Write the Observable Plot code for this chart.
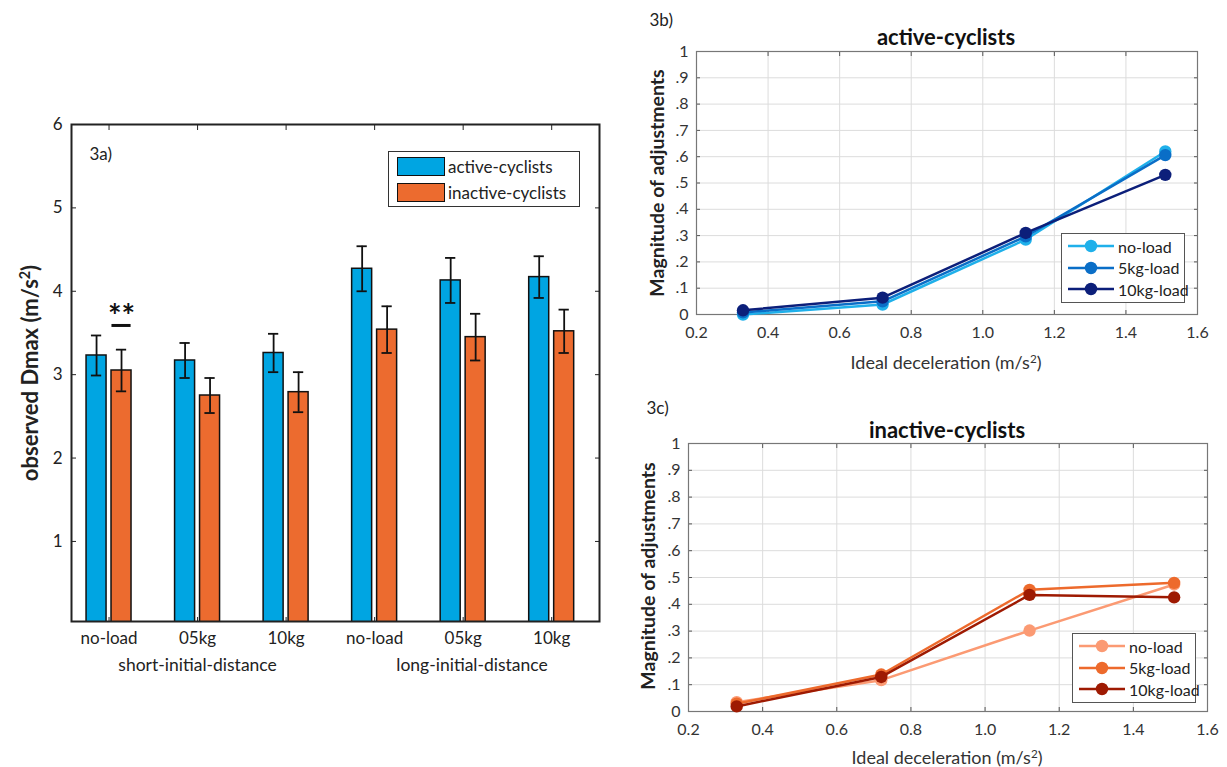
<!DOCTYPE html>
<html><head><meta charset="utf-8">
<script src="https://cdn.jsdelivr.net/npm/d3@7"></script>
<script src="https://cdn.jsdelivr.net/npm/@observablehq/plot@0.6"></script>
<style>
body{margin:0;background:#fff;font-family:Lato,"Open Sans",sans-serif;color:#222;}
#root{position:relative;width:1227px;height:767px;overflow:hidden;background:#fff;}
.lbl{position:absolute;white-space:nowrap;transform:translate(-50%,-50%);line-height:1;}
.lbl sup{font-size:0.65em;vertical-align:0.55em;line-height:0;}
.legend{position:absolute;background:#fff;box-sizing:border-box;}
.legrow{position:absolute;left:0;display:flex;align-items:center;white-space:nowrap;}
</style></head><body><div id="root"></div>
<script>
// ---------- Panel 3a data ----------
const conditions = ["no-load","05kg","10kg","no-load","05kg","10kg"];
const conditionPos = [1,2,3,4,5,6];
const distanceGroups = ["short-initial-distance","long-initial-distance"];
const distanceGroupPos = [2,5.1];
const cyclistGroups = ["active-cyclists","inactive-cyclists"];
const activeDmax = [3.23,3.17,3.26,4.27,4.13,4.17];
const activeErr = [0.24,0.21,0.23,0.27,0.27,0.25];
const inactiveDmax = [3.05,2.75,2.79,3.54,3.45,3.52];
const inactiveErr = [0.25,0.21,0.24,0.28,0.28,0.26];
const barColors = ["#00a5e2","#ec6b2f"];
const yTicksA = [1,2,3,4,5,6];
const sigPos = [1];
const sigLine = [3.59];
const sigText = ["**"];
const panelTags = ["3a)","3b)","3c)"];

// ---------- Panels 3b / 3c data ----------
const idealDecel = [0.33,0.72,1.12,1.51];
const loads = ["no-load","5kg-load","10kg-load"];
const activeNoLoad = [0.0,0.038,0.285,0.62];
const active5kg = [0.008,0.05,0.297,0.606];
const active10kg = [0.016,0.064,0.31,0.531];
const inactiveNoLoad = [0.035,0.117,0.302,0.474];
const inactive5kg = [0.029,0.138,0.454,0.48];
const inactive10kg = [0.019,0.129,0.435,0.426];
const activeColors = ["#1fb0ea","#0a6ec7","#0c1f7a"];
const inactiveColors = ["#fb9a73","#ed6a2c","#9e1a02"];
const xTicksBC = [0.2,0.4,0.6,0.8,1.0,1.2,1.4,1.6];
const yTicksBC = [0,0.1,0.2,0.3,0.4,0.5,0.6,0.7,0.8,0.9,1];
const yTickLabelsBC = ["0",".1",".2",".3",".4",".5",".6",".7",".8",".9","1"];

const root = document.getElementById("root");
function place(el, left, top){ el.style.position="absolute"; el.style.left=left+"px"; el.style.top=top+"px"; root.appendChild(el); return el; }
function label(html, cx, cy, css, rotate){
  const d=document.createElement("div"); d.className="lbl"; d.innerHTML=html;
  d.style.left=cx+"px"; d.style.top=cy+"px";
  Object.assign(d.style, css||{});
  if(rotate) d.style.transform="translate(-50%,-50%) rotate(-90deg)";
  root.appendChild(d); return d;
}

// ---------- Panel 3a ----------
const barData = [];
conditions.forEach((c,i)=>{
  barData.push({pos:conditionPos[i], group:cyclistGroups[0], value:activeDmax[i], err:activeErr[i], side:-1});
  barData.push({pos:conditionPos[i], group:cyclistGroups[1], value:inactiveDmax[i], err:inactiveErr[i], side:1});
});
const halfGap=0.028, barW=0.226, capHalf=0.058;
const bx1 = d => d.pos + (d.side<0 ? -halfGap-barW : halfGap);
const bx2 = d => d.pos + (d.side<0 ? -halfGap : halfGap+barW);
const bxc = d => d.pos + d.side*(halfGap+barW/2);
const sigData = sigPos.map((p,i)=>({pos:p, side:1, y:sigLine[i], text:sigText[i]}));
const groupData = distanceGroups.map((g,i)=>({label:g, pos:distanceGroupPos[i]}));

const plotA = Plot.plot({
  width:620, height:600, marginLeft:71, marginTop:24, marginRight:21, marginBottom:79,
  x:{domain:[0.576,6.54]}, y:{domain:[0.04,6]},
  color:{domain:cyclistGroups, range:barColors},
  style:{fontFamily:"Lato, sans-serif", fontSize:"17px", color:"#222", background:"transparent", overflow:"visible"},
  marks:[
    Plot.rect(barData,{x1:bx1, x2:bx2, y1:0, y2:"value", fill:"group", stroke:"#111", strokeWidth:1.5, clip:true}),
    Plot.ruleX(barData,{x:bxc, y1:d=>d.value-d.err, y2:d=>d.value+d.err, stroke:"#111", strokeWidth:1.8}),
    Plot.ruleY(barData,{y:d=>d.value+d.err, x1:d=>bxc(d)-capHalf, x2:d=>bxc(d)+capHalf, stroke:"#111", strokeWidth:1.8}),
    Plot.ruleY(barData,{y:d=>d.value-d.err, x1:d=>bxc(d)-capHalf, x2:d=>bxc(d)+capHalf, stroke:"#111", strokeWidth:1.8}),
    Plot.ruleY(sigData,{y:"y", x1:d=>bx1(d)+0.005, x2:d=>bx2(d)-0.005, stroke:"#111", strokeWidth:3}),
    Plot.text(sigData,{x:bxc, y:"y", text:"text", dy:-8, fontSize:32, fontWeight:"bold", fill:"#111", lineAnchor:"middle"}),
    Plot.text(panelTags.slice(0,1),{text:d=>d, frameAnchor:"top-left", dx:18, dy:30, fontSize:17, fill:"#222", lineAnchor:"middle", textAnchor:"start"}),
    Plot.axisY(yTicksA,{anchor:"left", tickSize:-5, tickPadding:14, tickFormat:d3.format("d"), label:null, stroke:"#222"}),
    Plot.axisY(yTicksA,{anchor:"right", tickSize:-5, tickFormat:()=>"", label:null, stroke:"#222"}),
    Plot.axisX(conditionPos,{anchor:"bottom", tickSize:-4, tickPadding:14, tickFormat:p=>conditions[conditionPos.indexOf(p)], label:null, stroke:"#222"}),
    Plot.axisX(conditionPos,{anchor:"top", tickSize:-5, tickFormat:()=>"", label:null, stroke:"#222"}),
    Plot.text(groupData,{x:"pos", text:"label", frameAnchor:"bottom", dy:44, fontSize:17.5, fill:"#222", lineAnchor:"middle"}),
    Plot.frame({stroke:"#222", strokeWidth:2})
  ]
});
place(plotA, 0, 100);

// legend 3a
(function(){
  const L=document.createElement("div"); L.className="legend";
  L.style.width="192px"; L.style.height="56px"; L.style.border="1.5px solid #333";
  cyclistGroups.forEach((g,i)=>{
    const r=document.createElement("div"); r.className="legrow";
    r.style.top=(4+i*26)+"px"; r.style.left="8px"; r.style.height="20px";
    r.innerHTML=`<span style="display:inline-block;width:46px;height:17px;background:${barColors[i]};border:1.5px solid #111;"></span><span style="margin-left:3px;font-size:17px;">${g}</span>`;
    L.appendChild(r);
  });
  place(L, 388, 151);
})();
label("observed Dmax (m/s<sup>2</sup>)", 30, 373, {fontSize:"22px", fontWeight:"bold"}, true);

// ---------- Panels 3b / 3c ----------
function linePanel(seriesList, colors, dims){
  const data=[];
  seriesList.forEach((s,k)=>s.forEach((v,j)=>data.push({load:loads[k], x:idealDecel[j], y:v})));
  const marks=[
    Plot.gridX(xTicksBC,{stroke:"#dcdcdc", strokeOpacity:1}),
    Plot.gridY(yTicksBC,{stroke:"#dcdcdc", strokeOpacity:1}),
    Plot.axisY(yTicksBC,{anchor:"left", tickSize:-4, tickPadding:12, tickFormat:v=>yTickLabelsBC[yTicksBC.indexOf(v)], label:null, stroke:"#555"}),
    Plot.axisY(yTicksBC,{anchor:"right", tickSize:-4, tickFormat:()=>"", label:null, stroke:"#555"}),
    Plot.axisX(xTicksBC,{anchor:"bottom", tickSize:-4, tickPadding:16, tickFormat:d3.format(".1f"), label:null, stroke:"#555"}),
    Plot.axisX(xTicksBC,{anchor:"top", tickSize:-4, tickFormat:()=>"", label:null, stroke:"#555"}),
    Plot.frame({stroke:"#777", strokeWidth:1.2})
  ];
  loads.forEach(l=>{
    const sub=data.filter(d=>d.load===l);
    marks.push(Plot.line(sub,{x:"x", y:"y", stroke:"load", strokeWidth:2.5}));
    marks.push(Plot.dot(sub,{x:"x", y:"y", fill:"load", r:6.2}));
  });
  marks.push(Plot.text([dims.tag],{text:d=>d, frameAnchor:"top-left", dx:dims.tagDx, dy:dims.tagDy, fontSize:17, fill:"#222", lineAnchor:"middle", textAnchor:"start"}));
  return Plot.plot({
    width:607, height:dims.height, marginLeft:dims.ml, marginTop:dims.mt, marginRight:dims.mr, marginBottom:dims.mb,
    x:{domain:[0.2,1.6]}, y:{domain:[0,1]},
    color:{domain:loads, range:colors},
    style:{fontFamily:"Lato, sans-serif", fontSize:"16px", color:"#333", background:"transparent", overflow:"visible"},
    marks
  });
}
function lineLegend(colors, left, top){
  const L=document.createElement("div"); L.className="legend";
  L.style.width="124px"; L.style.height="70px"; L.style.border="1px solid #555";
  loads.forEach((l,i)=>{
    const r=document.createElement("div"); r.className="legrow";
    r.style.top=(2+i*21.5)+"px"; r.style.left="5px"; r.style.height="20px";
    r.innerHTML=`<svg width="48" height="20" style="display:block"><line x1="1" y1="10" x2="47" y2="10" stroke="${colors[i]}" stroke-width="2.5"/><circle cx="24" cy="10" r="6.2" fill="${colors[i]}"/></svg><span style="margin-left:3px;font-size:16px;color:#222;">${l}</span>`;
    L.appendChild(r);
  });
  place(L, left, top);
}

const plotB = linePanel([activeNoLoad,active5kg,active10kg], activeColors, {height:380, ml:76, mt:51, mr:30, mb:66, tag:panelTags[1], tagDx:-47, tagDy:-31});
place(plotB, 620, 0);
lineLegend(activeColors, 1061, 233);
label(cyclistGroups[0], 946, 37, {fontSize:"22px", fontWeight:"bold", color:"#111"});
label("Magnitude of adjustments", 657, 183, {fontSize:"19.5px", fontWeight:"bold", color:"#222"}, true);
label("Ideal deceleration (m/s<sup>2</sup>)", 946, 362, {fontSize:"18px", color:"#333"});

const plotC = linePanel([inactiveNoLoad,inactive5kg,inactive10kg], inactiveColors, {height:387, ml:68, mt:63, mr:20, mb:56, tag:panelTags[2], tagDx:-42, tagDy:-35});
place(plotC, 620, 380);
lineLegend(inactiveColors, 1072, 633);
label(cyclistGroups[1], 947, 430, {fontSize:"22px", fontWeight:"bold", color:"#111"});
label("Magnitude of adjustments", 648, 576, {fontSize:"19.5px", fontWeight:"bold", color:"#222"}, true);
label("Ideal deceleration (m/s<sup>2</sup>)", 947, 757, {fontSize:"18px", color:"#333"});
</script></body></html>
